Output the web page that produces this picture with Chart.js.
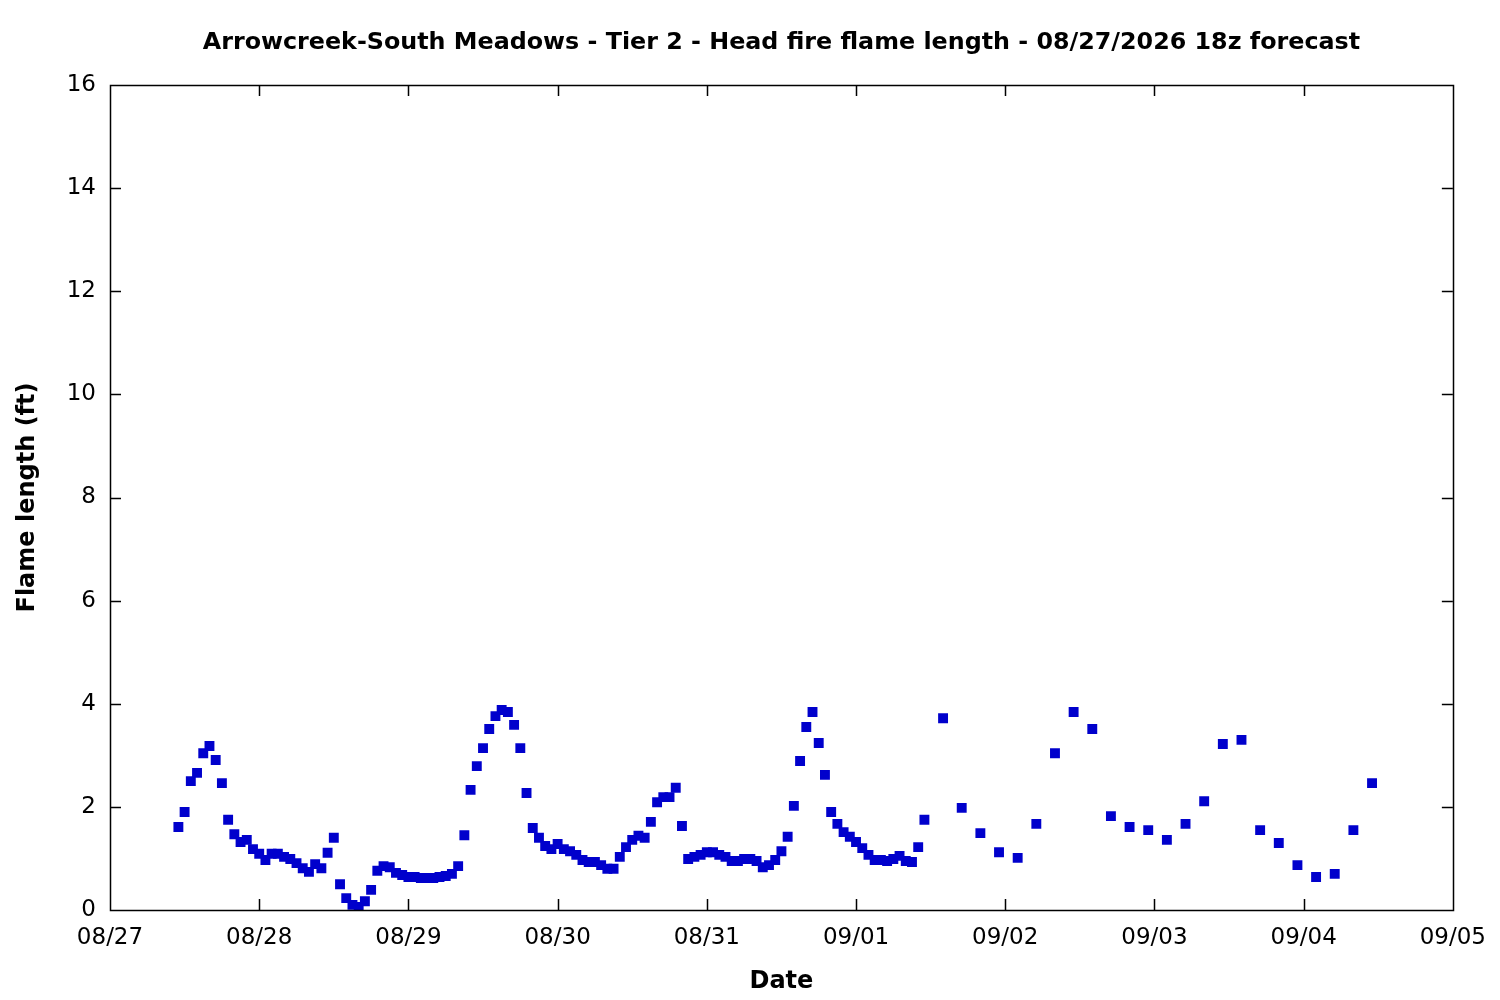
<!DOCTYPE html>
<html>
<head>
<meta charset="utf-8">
<script src="https://cdn.jsdelivr.net/npm/chart.js@4/dist/chart.umd.min.js"></script>
<style>
  body { margin: 0; background: #fff; }
  #wrap { width: 1500px; height: 1000px; }
</style>
</head>
<body>
<div id="wrap"><canvas id="flame" width="1500" height="1000"></canvas></div>
<script>
// hours after 08/27 00z for the first point of each run, and the step in hours
var hourlyStart = 11;
var threeHourlyStart = 134;

// flame length (ft), hourly run
var hourlyFlame = [
  1.61, 1.90, 2.50, 2.66, 3.04, 3.18, 2.91, 2.46, 1.75, 1.47, 1.32, 1.36, 1.18, 1.09, 0.97, 1.09,
  1.09, 1.03, 0.99, 0.91, 0.81, 0.74, 0.89, 0.81, 1.11, 1.40, 0.50, 0.23, 0.10, 0.06, 0.17, 0.39,
  0.76, 0.85, 0.83, 0.72, 0.68, 0.64, 0.64, 0.62, 0.62, 0.62, 0.64, 0.66, 0.70, 0.85, 1.45, 2.33,
  2.79, 3.14, 3.51, 3.76, 3.88, 3.84, 3.59, 3.14, 2.27, 1.59, 1.40, 1.24, 1.18, 1.28, 1.18, 1.14,
  1.07, 0.97, 0.93, 0.93, 0.87, 0.80, 0.80, 1.03, 1.22, 1.36, 1.44, 1.40, 1.71, 2.09, 2.19, 2.19,
  2.37, 1.63, 0.99, 1.03, 1.07, 1.12, 1.12, 1.07, 1.03, 0.95, 0.95, 0.99, 0.99, 0.95, 0.83, 0.87,
  0.97, 1.14, 1.42, 2.02, 2.89, 3.55, 3.84, 3.24, 2.62, 1.90, 1.67, 1.51, 1.42, 1.32, 1.20, 1.07,
  0.97, 0.97, 0.95, 0.99, 1.05, 0.95, 0.93, 1.22, 1.75
];

// flame length (ft), 3-hourly run
var threeHourlyFlame = [
  3.72, 1.98, 1.49, 1.12, 1.01, 1.67, 3.04, 3.84, 3.51, 1.82, 1.61, 1.55,
  1.36, 1.67, 2.11, 3.22, 3.30, 1.55, 1.30, 0.87, 0.64, 0.70, 1.55, 2.46
];

var dateLabels = ['08/27', '08/28', '08/29', '08/30', '08/31', '09/01', '09/02', '09/03', '09/04', '09/05'];
var yTicks = [0, 2, 4, 6, 8, 10, 12, 14, 16];
var titleText = 'Arrowcreek-South Meadows - Tier 2 - Head fire flame length - 08/27/2026 18z forecast';

var points = [];
hourlyFlame.forEach(function (v, i) { points.push({ x: hourlyStart + i, y: v }); });
threeHourlyFlame.forEach(function (v, i) { points.push({ x: threeHourlyStart + 3 * i, y: v }); });

// gnuplot style frame: box border, inward ticks on all four sides, title over the plot box
var framePlugin = {
  id: 'frame',
  afterDatasetsDraw: function (chart) {
    var ctx = chart.ctx, a = chart.chartArea;
    var xs = chart.scales.x, ys = chart.scales.y;
    var len = 11;
    ctx.save();
    ctx.strokeStyle = '#000';
    ctx.lineWidth = 1.5;
    ctx.beginPath();
    for (var d = 1; d < dateLabels.length - 1; d++) {
      var px = Math.round(xs.getPixelForValue(d * 24)) + 0.5;
      ctx.moveTo(px, a.bottom); ctx.lineTo(px, a.bottom - len);
      ctx.moveTo(px, a.top); ctx.lineTo(px, a.top + len);
    }
    for (var t = 1; t < yTicks.length - 1; t++) {
      var py = Math.round(ys.getPixelForValue(yTicks[t])) + 0.5;
      ctx.moveTo(a.left, py); ctx.lineTo(a.left + len, py);
      ctx.moveTo(a.right, py); ctx.lineTo(a.right - len, py);
    }
    ctx.stroke();
    ctx.strokeRect(Math.round(a.left) + 0.5, Math.round(a.top) + 0.5,
                   Math.round(a.right - a.left), Math.round(a.bottom - a.top));

    ctx.fillStyle = '#000';
    ctx.font = 'bold 23.8px "DejaVu Sans"';
    ctx.textAlign = 'center';
    ctx.textBaseline = 'middle';
    ctx.fillText(titleText, (a.left + a.right) / 2, 43);
    ctx.restore();
  }
};

new Chart(document.getElementById('flame'), {
  type: 'scatter',
  data: {
    datasets: [{
      data: points,
      pointStyle: 'rect',
      pointRadius: 7,
      pointHoverRadius: 7,
      backgroundColor: '#0000cc',
      borderWidth: 0
    }]
  },
  options: {
    responsive: false,
    animation: false,
    devicePixelRatio: 1,
    layout: { padding: { left: 0, right: 45, top: 85, bottom: 0 } },
    plugins: {
      legend: { display: false },
      tooltip: { enabled: false },
      title: { display: false }
    },
    scales: {
      x: {
        type: 'linear',
        min: 0,
        max: 216,
        afterFit: function (s) { s.height = 90; },
        afterBuildTicks: function (s) {
          s.ticks = dateLabels.map(function (l, i) { return { value: i * 24 }; });
        },
        ticks: {
          color: '#000',
          font: { family: 'DejaVu Sans', size: 23 },
          padding: 14,
          maxRotation: 0,
          autoSkip: false,
          callback: function (v) { return dateLabels[Math.round(v / 24)]; }
        },
        grid: { display: false, drawTicks: false },
        border: { display: false },
        title: {
          display: true,
          text: 'Date',
          color: '#000',
          font: { family: 'DejaVu Sans', size: 24, weight: 'bold' },
          padding: { top: 10, bottom: 4 }
        }
      },
      y: {
        min: 0,
        max: 16,
        afterFit: function (s) { s.width = 110; },
        afterBuildTicks: function (s) {
          s.ticks = yTicks.map(function (v) { return { value: v }; });
        },
        ticks: {
          color: '#000',
          font: { family: 'DejaVu Sans', size: 23 },
          padding: 14
        },
        grid: { display: false, drawTicks: false },
        border: { display: false },
        title: {
          display: true,
          text: 'Flame length (ft)',
          color: '#000',
          font: { family: 'DejaVu Sans', size: 24, weight: 'bold' },
          padding: { top: 13, bottom: 0 }
        }
      }
    }
  },
  plugins: [framePlugin]
});
</script>
</body>
</html>
